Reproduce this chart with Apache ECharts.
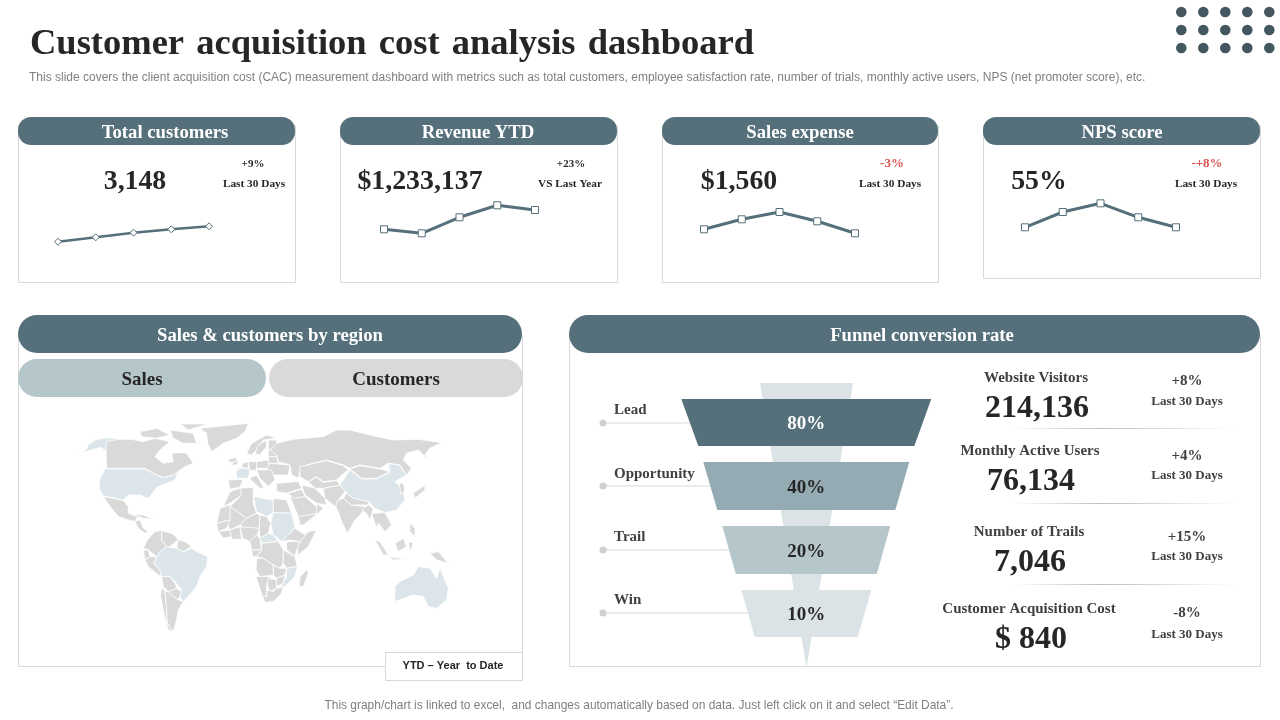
<!DOCTYPE html>
<html>
<head>
<meta charset="utf-8">
<title>Customer acquisition cost analysis dashboard</title>
<script src="https://cdn.jsdelivr.net/npm/echarts@6/dist/echarts.min.js"></script>
<style>
html,body{margin:0;padding:0;background:#fff;}
#main{width:1280px;height:720px;}
</style>
</head>
<body>
<div id="main"></div>
<script>
var serif = '"Liberation Serif"';
var sans = '"Liberation Sans"';
var slate = '#56707b';

// KPI cards
var cardTitles = ['Total customers', 'Revenue YTD', 'Sales expense', 'NPS score'];
var cardValues = ['3,148', '$1,233,137', '$1,560', '55%'];
var cardDeltas = ['+9%', '+23%', '-3%', '-+8%'];
var cardPeriods = ['Last 30 Days', 'VS Last Year', 'Last 30 Days', 'Last 30 Days'];
var sparkCategories = ['P1', 'P2', 'P3', 'P4', 'P5'];
var sparkCustomers = [8.3, 12.7, 17.3, 20.7, 23.7];
var sparkRevenue = [20.7, 16.7, 32.7, 44.7, 40];
var sparkExpense = [20.7, 30.7, 38, 28.7, 16.7];
var sparkNps = [22.7, 38, 46.7, 32.7, 22.7];

// funnel
var funnelStages = ['Lead', 'Opportunity', 'Trail', 'Win'];
var funnelValues = [80, 40, 20, 10];

// funnel side metrics
var metricNames = ['Website Visitors', 'Monthly Active Users', 'Number of Trails', 'Customer Acquisition Cost'];
var metricValues = ['214,136', '76,134', '7,046', '$ 840'];
var metricDeltas = ['+8%', '+4%', '+15%', '-8%'];
var metricPeriods = ['Last 30 Days', 'Last 30 Days', 'Last 30 Days', 'Last 30 Days'];

// countries tinted on the map
var highlightedRegions = ['USA', 'Brazil', 'China', 'Australia', 'Sudan', 'Libya', 'France', 'CAR', 'Mozambique'];

// rough country outlines for the base map
var worldOutlines = {
	USA: [[[118,240],[135,207],[255,207],[285,222],[305,232],[340,225],[355,215],[345,240],[320,250],[290,262],[270,290],[262,295],[240,285],[205,285],[190,300],[165,295],[130,288],[118,265]],
		[[55,160],[80,148],[85,135],[105,120],[140,113],[175,116],[150,135],[138,152],[120,142],[95,150]]],
	Canada: [[[140,125],[175,118],[215,118],[250,125],[285,115],[330,125],[300,150],[285,170],[310,190],[340,185],[335,160],[360,158],[380,160],[400,190],[375,200],[360,210],[340,225],[310,232],[285,222],[255,205],[140,205],[138,155]],
		[[240,95],[290,85],[330,105],[290,115],[245,110]],
		[[330,90],[400,100],[410,130],[370,130],[340,115]],
		[[360,72],[445,72],[385,90]]],
	Greenland: [[[420,85],[470,80],[565,70],[555,95],[530,115],[490,130],[455,155],[443,130],[440,100]]],
	Mexico: [[[130,290],[165,296],[190,302],[205,320],[205,340],[225,345],[240,340],[225,365],[205,360],[175,350],[155,325],[140,305]]],
	CentralAmerica: [[[225,365],[240,360],[250,385],[265,395],[255,400],[235,385]]],
	Cuba: [[[215,345],[250,345],[280,358],[250,355]]],
	Colombia: [[[262,420],[285,395],[305,392],[305,420],[320,440],[300,455],[290,470],[265,450],[250,445]]],
	Ecuador: [[[250,450],[265,450],[270,470],[255,480]]],
	Peru: [[[255,480],[270,470],[290,470],[282,490],[300,510],[305,530],[295,525],[265,500]]],
	Venezuela: [[[305,392],[340,402],[355,420],[330,440],[320,440],[305,420]]],
	Guianas: [[[355,420],[375,425],[395,440],[370,455],[350,445]]],
	Brazil: [[[290,470],[300,455],[320,440],[350,445],[370,455],[395,445],[410,455],[443,470],[440,500],[420,530],[410,560],[385,590],[370,605],[360,590],[365,570],[345,545],[330,530],[305,530],[300,510],[282,490]]],
	Bolivia: [[[305,530],[330,530],[345,550],[350,565],[325,575],[310,560]]],
	Paraguay: [[[325,575],[350,565],[365,575],[355,600],[340,590]]],
	Chile: [[[305,560],[315,575],[320,625],[322,670],[340,695],[325,690],[312,640],[302,590]]],
	Argentina: [[[315,575],[325,575],[340,590],[355,600],[370,605],[355,630],[350,660],[340,695],[322,670],[320,625]]],
	Morocco: [[[510,275],[540,265],[545,285],[510,310],[490,320]]],
	Algeria: [[[540,265],[580,262],[580,310],[590,340],[560,355],[510,320],[545,285]]],
	Libya: [[[580,290],[640,300],[640,338],[620,350],[590,335]]],
	Egypt: [[[640,295],[680,300],[695,340],[640,338]]],
	Mauritania: [[[480,325],[510,315],[525,340],[510,360],[470,370]]],
	Mali: [[[510,320],[560,355],[540,375],[510,390],[500,370],[510,360]]],
	Niger: [[[560,355],[590,340],[600,345],[598,385],[560,390],[540,375]]],
	Chad: [[[600,345],[620,350],[632,370],[625,400],[600,415],[598,385]]],
	Sudan: [[[640,338],[695,340],[705,380],[690,400],[665,425],[640,405],[632,370]]],
	Senegal: [[[470,370],[510,360],[500,385],[475,395]]],
	Guinea: [[[475,395],[510,390],[515,410],[490,415]]],
	IvoryCoast: [[[510,390],[540,380],[545,418],[515,418]]],
	Nigeria: [[[540,380],[598,385],[590,410],[570,425],[548,415]]],
	Cameroon: [[[590,405],[600,415],[605,450],[575,450],[570,425]]],
	CAR: [[[600,415],[625,400],[640,405],[655,425],[605,430]]],
	Ethiopia: [[[705,385],[745,410],[720,425],[690,420],[665,425],[690,400]]],
	Somalia: [[[745,395],[770,390],[745,440],[715,465],[712,445],[720,425]]],
	Kenya: [[[680,425],[720,425],[712,445],[705,470],[680,450]]],
	DRC: [[[605,430],[655,425],[670,450],[670,490],[660,505],[640,495],[610,475],[590,470],[605,450]]],
	Gabon: [[[575,450],[605,450],[590,470],[578,470]]],
	Tanzania: [[[670,450],[705,470],[712,500],[680,505],[670,490]]],
	Angola: [[[590,475],[610,475],[640,495],[640,525],[600,530],[588,510]]],
	Zambia: [[[640,495],[660,505],[680,505],[675,525],[650,535],[640,525]]],
	Mozambique: [[[680,505],[712,500],[705,530],[670,565],[665,555],[680,530]]],
	Namibia: [[[588,530],[625,530],[640,540],[620,550],[620,590],[608,590]]],
	Botswana: [[[625,535],[650,540],[650,565],[630,575],[622,555]]],
	Zimbabwe: [[[650,535],[675,525],[670,550],[650,560]]],
	SouthAfrica: [[[608,590],[620,590],[622,570],[640,575],[650,565],[670,560],[665,580],[640,605],[615,608]]],
	Madagascar: [[[742,508],[745,520],[730,560],[718,560],[720,530]]],
	Iberia: [[[505,240],[550,238],[540,262],[510,268]]],
	France: [[[540,205],[565,205],[570,212],[565,235],[530,235],[528,215]]],
	UK: [[[525,170],[535,185],[530,195],[515,195],[522,180]]],
	Iceland: [[[505,178],[530,172],[528,185],[510,188]]],
	Benelux: [[[548,190],[565,185],[565,205],[545,203]]],
	Germany: [[[565,185],[590,185],[590,210],[570,212]]],
	Italy: [[[568,235],[590,225],[612,265],[600,265]]],
	Poland: [[[590,185],[625,180],[630,205],[590,205]]],
	Ukraine: [[[630,190],[690,195],[685,225],[640,225],[620,210]]],
	Belarus: [[[625,170],[650,170],[655,190],[625,190]]],
	Baltics: [[[625,150],[650,150],[650,170],[625,170]]],
	Balkans: [[[590,210],[635,210],[645,240],[625,260],[600,235]]],
	Norway: [[[560,160],[575,130],[620,105],[650,115],[610,120],[590,150],[575,165]]],
	Sweden: [[[585,160],[595,135],[620,120],[620,140],[600,165]]],
	Finland: [[[625,120],[650,120],[650,150],[625,150]]],
	Turkey: [[[650,250],[715,245],[725,265],[680,280],[650,275]]],
	Russia: [[[650,130],[700,118],[790,110],[830,90],[870,90],[930,105],[1000,120],[1075,118],[1145,128],[1110,145],[1095,165],[1115,190],[1095,170],[1075,150],[1040,160],[1030,180],[1055,205],[1040,225],[1020,195],[985,190],[960,205],[900,195],[870,205],[850,195],[800,180],[740,195],[720,215],[715,235],[695,225],[690,195],[655,185],[650,165],[630,150]]],
	Kazakhstan: [[[720,200],[800,182],[850,197],[865,210],[845,225],[830,240],[790,245],[770,230],[745,245],[720,230]]],
	Mongolia: [[[870,207],[900,197],[960,207],[990,215],[950,235],[905,235]]],
	China: [[[840,255],[870,210],[905,237],[950,237],[990,217],[985,190],[1020,197],[1040,225],[1005,245],[1030,270],[1035,300],[1010,330],[975,338],[945,325],[925,305],[880,295],[860,280]]],
	Korea: [[[1018,250],[1030,250],[1035,275],[1022,280]]],
	Japan: [[[1060,280],[1095,255],[1095,270],[1065,295]]],
	India: [[[825,305],[850,295],[875,315],[920,320],[900,345],[885,360],[862,400],[845,365],[835,335],[830,325]]],
	Nepal: [[[850,295],[860,280],[880,295],[925,305],[925,315],[875,315]]],
	Pakistan: [[[790,265],[840,255],[855,275],[835,300],[825,320],[795,295]]],
	Uzbekistan: [[[745,245],[770,232],[790,247],[830,242],[840,255],[790,265],[765,265]]],
	Iran: [[[725,255],[765,265],[795,295],[800,315],[770,310],[735,285]]],
	Saudi: [[[690,290],[735,290],[770,320],[775,335],[730,365],[715,350]]],
	Iraq: [[[685,280],[725,268],[735,290],[700,295]]],
	Yemen: [[[715,350],[775,340],[730,375],[720,375]]],
	Oman: [[[770,310],[790,325],[770,345]]],
	Myanmar: [[[905,330],[925,315],[940,325],[930,360],[920,340]]],
	Indochina: [[[935,340],[975,338],[995,375],[975,395],[955,370],[950,385]]],
	Sumatra: [[[945,420],[960,425],[985,465],[970,465]]],
	Borneo: [[[1005,430],[1030,415],[1040,440],[1015,455]]],
	Java: [[[985,470],[1040,478],[1000,480]]],
	Sulawesi: [[[1045,425],[1060,430],[1050,455]]],
	Philippines: [[[1050,370],[1065,385],[1065,410],[1050,395]]],
	NewGuinea: [[[1110,460],[1135,455],[1165,490],[1130,480]]],
	Australia: [[[1005,560],[1020,545],[1060,525],[1075,500],[1110,505],[1130,535],[1140,505],[1165,565],[1160,600],[1130,625],[1105,620],[1090,590],[1060,585],[1005,605]]]
};

var worldFeatures = [];
for (var region in worldOutlines) {
	worldFeatures.push({
		type: 'Feature',
		properties: {name: region},
		geometry: {
			type: 'MultiPolygon',
			coordinates: worldOutlines[region].map(function (ring) {
				return [ring.concat([ring[0]])];
			})
		}
	});
}
echarts.registerMap('world', {type: 'FeatureCollection', features: worldFeatures});

var graphics = [];

function addText(x, y, text, size, color, align, font, bold) {
	graphics.push({
		type: 'text',
		x: x,
		y: y + size * 0.08,
		style: {
			text: text,
			fill: color,
			align: align || 'center',
			verticalAlign: 'middle',
			font: (bold === false ? '' : 'bold ') + size + 'px ' + (font || serif)
		}
	});
}

function addRect(x, y, w, h, fill, stroke, radius) {
	graphics.push({
		type: 'rect',
		shape: {x: x, y: y, width: w, height: h, r: radius || 0},
		style: {fill: fill, stroke: stroke || null, lineWidth: stroke ? 1 : 0}
	});
}

// heading, hair spaces widen the word gaps
addText(30, 42, 'Customer\u200a acquisition\u200a cost\u200a analysis\u200a dashboard', 36.5, '#262626', 'left');
addText(29, 77, 'This slide covers the client acquisition cost (CAC) measurement dashboard with metrics such as total customers, employee satisfaction rate, number of trials, monthly active users, NPS (net promoter score), etc.', 12, '#7f7f7f', 'left', sans, false);
addText(639, 705, 'This graph/chart is linked to excel,  and changes automatically based on data. Just left click on it and select \u201cEdit Data\u201d.', 11.95, '#7f7f7f', 'center', sans, false);

// corner dots
[1181.3, 1203.3, 1225.3, 1247.3, 1269.3].forEach(function (x) {
	[12, 30, 48].forEach(function (y) {
		graphics.push({type: 'circle', shape: {cx: x, cy: y, r: 5.3}, style: {fill: '#44565f'}});
	});
});

// cards
var cardLeft = [18, 340, 662, 983];
var cardWidth = [277, 277, 276, 277];
var cardBottom = [282, 282, 282, 278];
var cardTitleX = [165, 478, 800, 1122];
var cardValueX = [135, 420, 739, 1039];
var cardDeltaX = [253, 571, 892, 1207];
var cardPeriodX = [254, 570, 890, 1206];
var cardDeltaColor = ['#262626', '#262626', '#d9534f', '#d9534f'];
var cardDeltaSize = [11, 11, 13, 13];
cardTitles.forEach(function (name, i) {
	addRect(cardLeft[i] + 0.5, 125.5, cardWidth[i], cardBottom[i] - 125, '#fff', '#d9d9d9');
	addRect(cardLeft[i], 117, cardWidth[i], 28, slate, null, 13);
	addText(cardTitleX[i], 132, name, 18.7, '#fff');
	addText(cardValueX[i], 180, cardValues[i], 27.8, '#262626');
	addText(cardDeltaX[i], 163, cardDeltas[i], cardDeltaSize[i], cardDeltaColor[i]);
	addText(cardPeriodX[i], 183, cardPeriods[i], 11.3, '#262626');
});

// region panel
addRect(18.5, 335.5, 504, 331, '#fff', '#d9d9d9');
addRect(18, 315, 504, 38, slate, null, 19);
addText(270, 335, 'Sales & customers by region', 18.7, '#fff');
addRect(18, 359, 248, 38, '#b6c7cc', null, 19);
addRect(269, 359, 254, 38, '#d9d9d9', null, 19);
addText(142, 379, 'Sales', 19, '#262626');
addText(396, 379, 'Customers', 19, '#262626');
addRect(385.5, 652.5, 137, 28, '#fff', '#d9d9d9');
addText(453, 665, 'YTD \u2013 Year  to Date', 11, '#262626', 'center', sans);

// funnel panel
addRect(569.5, 335.5, 691, 331, '#fff', '#d9d9d9');
addRect(569, 315, 691, 38, slate, null, 19);
addText(922, 335, 'Funnel conversion rate', 18.7, '#fff');

// funnel stage leaders
var stageLineY = [423, 486, 550, 613];
var stageLabelY = [409, 473, 536, 599];
funnelStages.forEach(function (name, i) {
	graphics.push({type: 'line', shape: {x1: 603, y1: stageLineY[i], x2: 780, y2: stageLineY[i]}, style: {stroke: '#d9d9d9', lineWidth: 1}});
	graphics.push({type: 'circle', shape: {cx: 603, cy: stageLineY[i], r: 3.5}, style: {fill: '#d0d0d0'}});
	addText(614, stageLabelY[i], name, 15, '#404040', 'left');
});

// side metrics
var metricNameX = [1036, 1030, 1029, 1029];
var metricValueX = [1037, 1031, 1030, 1031];
var metricNameY = [377, 450, 531, 608];
var metricValueY = [406, 479, 560, 637];
var metricDeltaY = [380, 455, 536, 612];
var metricPeriodY = [401, 475, 556, 634];
metricNames.forEach(function (name, i) {
	addText(metricNameX[i], metricNameY[i], name, 15, '#404040');
	addText(metricValueX[i], metricValueY[i], metricValues[i], 32, '#262626');
	addText(1187, metricDeltaY[i], metricDeltas[i], 15, '#404040');
	addText(1187, metricPeriodY[i], metricPeriods[i], 13, '#404040');
});
[428.5, 503.5, 584.5].forEach(function (y) {
	graphics.push({
		type: 'line',
		shape: {x1: 1015, y1: y, x2: 1235, y2: y},
		style: {
			lineWidth: 1,
			stroke: new echarts.graphic.LinearGradient(0, 0, 1, 0, [
				{offset: 0, color: 'rgba(190,190,190,0)'},
				{offset: 0.4, color: 'rgba(190,190,190,1)'},
				{offset: 1, color: 'rgba(190,190,190,0)'}
			])
		}
	});
});

// sparklines
var sparkSeries = [sparkCustomers, sparkRevenue, sparkExpense, sparkNps];
var sparkLeft = [58, 384, 704, 1025];
var sparkRight = [209, 535, 855, 1176];
var sparkSymbols = ['diamond', 'rect', 'rect', 'rect'];
var grids = [], xAxes = [], yAxes = [], series = [];
sparkSeries.forEach(function (values, i) {
	grids.push({left: sparkLeft[i], width: sparkRight[i] - sparkLeft[i], top: 190, height: 60});
	xAxes.push({type: 'category', gridIndex: i, boundaryGap: false, show: false, data: sparkCategories});
	yAxes.push({type: 'value', gridIndex: i, min: 0, max: 60, show: false});
	series.push({
		type: 'line',
		xAxisIndex: i,
		yAxisIndex: i,
		data: values,
		symbol: sparkSymbols[i],
		symbolSize: 7,
		showAllSymbol: true,
		silent: true,
		lineStyle: {color: slate, width: i === 0 ? 2.5 : 3},
		itemStyle: {color: '#fff', borderColor: slate, borderWidth: 1}
	});
});

// map
series.push({
	type: 'map',
	map: 'world',
	projection: {
		project: function (p) { return p; },
		unproject: function (p) { return p; }
	},
	left: 78.3,
	top: 423.3,
	width: 370,
	height: 208.3,
	silent: true,
	label: {show: false},
	itemStyle: {areaColor: '#d9d9d9', borderColor: '#fff', borderWidth: 0.8},
	data: highlightedRegions.map(function (name) {
		return {name: name, itemStyle: {areaColor: '#dce6ea'}};
	})
});

// funnel backdrop and bands
series.push({
	type: 'funnel',
	left: 760,
	top: 383,
	width: 93,
	height: 285,
	min: 0,
	max: 100,
	minSize: 0,
	maxSize: 93,
	sort: 'none',
	silent: true,
	label: {show: false},
	labelLine: {show: false},
	itemStyle: {color: '#dbe3e6', borderWidth: 0},
	data: [{name: 'backdrop', value: 100}]
});
var bandCenter = 806.3;
var bandTop = [399, 462, 526, 590];
var bandHeight = [47, 48, 48, 47];
var bandTopWidth = [250, 206, 168, 130];
var bandBottomWidth = [216, 178, 141, 103];
var bandColors = [slate, '#94abb3', '#b6c7cc', '#dbe3e6'];
var bandLabelColors = ['#fff', '#262626', '#262626', '#262626'];
funnelStages.forEach(function (name, i) {
	series.push({
		type: 'funnel',
		left: bandCenter - bandTopWidth[i] / 2,
		top: bandTop[i],
		width: bandTopWidth[i],
		height: bandHeight[i],
		min: 0,
		max: funnelValues[i],
		minSize: bandBottomWidth[i],
		maxSize: bandTopWidth[i],
		sort: 'none',
		silent: true,
		z: 3,
		label: {show: true, position: 'inside', formatter: '{c}%', color: bandLabelColors[i], fontFamily: serif, fontWeight: 'bold', fontSize: 19},
		labelLayout: {dy: 2},
		labelLine: {show: false},
		itemStyle: {color: bandColors[i], borderWidth: 0},
		data: [{name: name, value: funnelValues[i]}]
	});
});

var myChart = echarts.init(document.getElementById('main'), null, {renderer: 'canvas'});
myChart.setOption({
	animation: false,
	backgroundColor: '#fff',
	tooltip: {show: false},
	legend: {show: false},
	graphic: {elements: graphics},
	grid: grids,
	xAxis: xAxes,
	yAxis: yAxes,
	series: series
});
</script>
</body>
</html>
